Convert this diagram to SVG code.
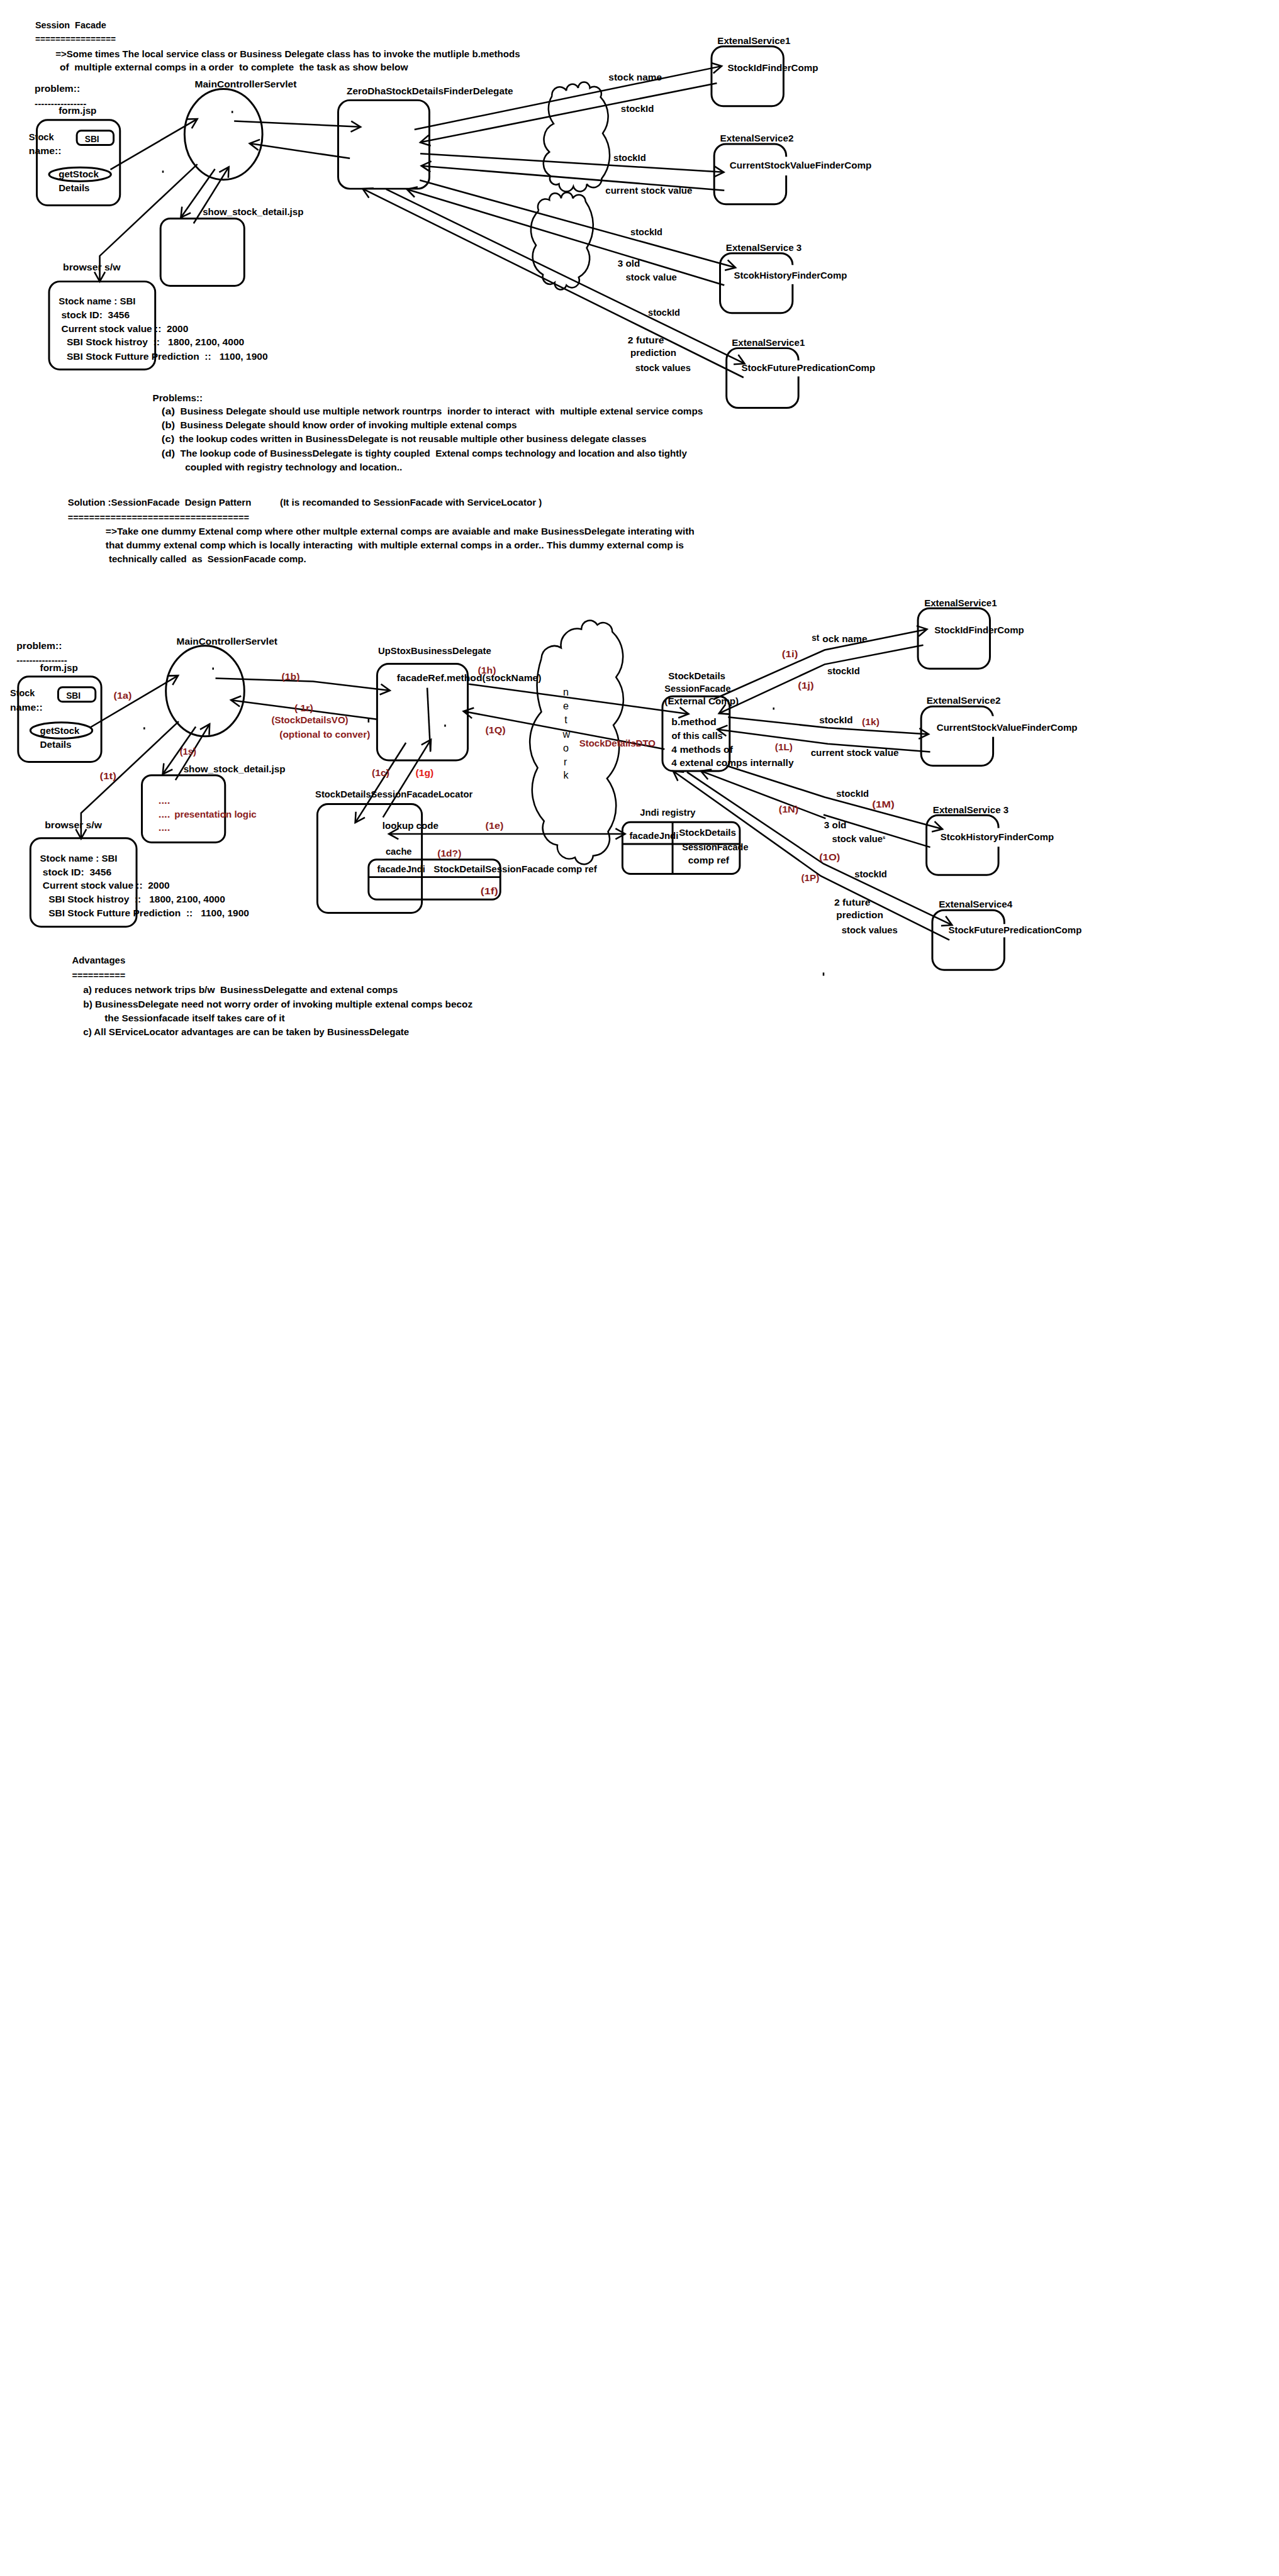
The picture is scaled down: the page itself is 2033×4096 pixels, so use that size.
<svg xmlns="http://www.w3.org/2000/svg" width="2033" height="4096" viewBox="0 0 2033 4096">
<defs>
<style>
.t{font-family:"Liberation Sans Narrow","Liberation Sans",Arial,sans-serif;font-weight:bold;font-size:18px;fill:#000;white-space:pre}
.r{fill:#8b1c1c}
.rb{fill:#e31b1b}
.nw{font-weight:normal;font-size:19px}
.box{fill:none;stroke:#000;stroke-width:3.5}
.ln{fill:none;stroke:#000;stroke-width:3}
.cl{fill:none;stroke:#000;stroke-width:3}
.gap{fill:#fff;stroke:none}
.dot{fill:#000}
</style>
<marker id="ah" viewBox="-24 -14 30 28" refX="0" refY="0" markerWidth="30" markerHeight="28" markerUnits="userSpaceOnUse" orient="auto-start-reverse" style="overflow:visible">
<path d="M-18,-10 L0,0 L-18,10" fill="none" stroke="#000" stroke-width="3"/>
</marker>
</defs>
<rect width="2033" height="4096" fill="#fff"/>
<g transform="scale(0.8478)">

<!-- ============ TOP SECTION ============ -->
<g id="intro">
<text class="t" x="66" y="53" textLength="133" lengthAdjust="spacingAndGlyphs">Session  Facade</text>
<text class="t" x="66" y="79" textLength="151" lengthAdjust="spacingAndGlyphs">================</text>
<text class="t" x="104" y="107" textLength="871" lengthAdjust="spacingAndGlyphs">=&gt;Some times The local service class or Business Delegate class has to invoke the mutliple b.methods</text>
<text class="t" x="112" y="132" textLength="653" lengthAdjust="spacingAndGlyphs">of  multiple external comps in a order  to complete  the task as show below</text>
<text class="t" x="65" y="172" textLength="85" lengthAdjust="spacingAndGlyphs">problem::</text>
<text class="t" x="65" y="201" textLength="97" lengthAdjust="spacingAndGlyphs">----------------</text>
</g>

<g id="top-clouds">
<path class="cl" d="M1035,180 A14.7,14.7 0 0 1 1062,170 A11.4,11.4 0 0 1 1084,165 A11,11 0 0 1 1106,165 A13.5,13.5 0 0 1 1126,182 A54,54 0 0 1 1130,250 A71.5,71.5 0 0 1 1128,335 A15.4,15.4 0 0 1 1100,345 A12.8,12.8 0 0 1 1075,350 A13.9,13.9 0 0 1 1048,345 A11.6,11.6 0 0 1 1032,330 A27,27 0 0 1 1030,285 A32.6,32.6 0 0 1 1038,232 A46,46 0 0 1 1035,180"/>
<path class="cl" d="M1010,395 A14.8,14.8 0 0 1 1030,375 A11,11 0 0 1 1052,372 A11,11 0 0 1 1074,372 A12.8,12.8 0 0 1 1098,378 A79,79 0 0 1 1100,465 A40,40 0 0 1 1085,520 A13.9,13.9 0 0 1 1062,535 A11.3,11.3 0 0 1 1040,530 A13.9,13.9 0 0 1 1018,515 A39,39 0 0 1 1005,460 A50,50 0 0 1 1010,395"/>
</g>

<g id="top-form">
<text class="t" x="110" y="214" textLength="71" lengthAdjust="spacingAndGlyphs">form.jsp</text>
<rect class="box" x="69" y="225" width="156" height="160" rx="20"/>
<rect class="box" x="144" y="245" width="69" height="27" rx="8"/>
<text class="t" x="159" y="267" textLength="27" lengthAdjust="spacingAndGlyphs">SBI</text>
<text class="t" x="54" y="263" textLength="47" lengthAdjust="spacingAndGlyphs">Stock</text>
<text class="t" x="54" y="289" textLength="61" lengthAdjust="spacingAndGlyphs">name::</text>
<ellipse class="box" cx="150" cy="327" rx="58" ry="13"/>
<text class="t" x="110" y="333" textLength="75" lengthAdjust="spacingAndGlyphs">getStock</text>
<text class="t" x="110" y="359" textLength="58" lengthAdjust="spacingAndGlyphs">Details</text>
</g>

<g id="top-servlet">
<text class="t" x="365" y="164" textLength="191" lengthAdjust="spacingAndGlyphs">MainControllerServlet</text>
<ellipse class="box" cx="419" cy="252" rx="73" ry="85"/>
<rect class="dot" x="434" y="208" width="3" height="4"/>
<rect class="dot" x="304" y="320" width="3" height="4"/>
</g>

<g id="top-delegate">
<text class="t" x="650" y="177" textLength="312" lengthAdjust="spacingAndGlyphs">ZeroDhaStockDetailsFinderDelegate</text>
<rect class="box" x="634" y="188" width="171" height="166" rx="22"/>
</g>

<g id="top-show">
<text class="t" x="380" y="403" textLength="189" lengthAdjust="spacingAndGlyphs">show_stock_detail.jsp</text>
<rect class="box" x="301" y="410" width="157" height="126" rx="18"/>
</g>

<g id="top-browser">
<text class="t" x="118" y="507" textLength="108" lengthAdjust="spacingAndGlyphs">browser s/w</text>
<rect class="box" x="92" y="528" width="199" height="165" rx="20"/>
<text class="t" x="110" y="571" textLength="144" lengthAdjust="spacingAndGlyphs">Stock name : SBI</text>
<text class="t" x="115" y="597" textLength="128" lengthAdjust="spacingAndGlyphs">stock ID:  3456</text>
<text class="t" x="115" y="623" textLength="238" lengthAdjust="spacingAndGlyphs">Current stock value ::  2000</text>
<text class="t" x="125" y="648" textLength="333" lengthAdjust="spacingAndGlyphs">SBI Stock histroy  ::   1800, 2100, 4000</text>
<text class="t" x="125" y="675" textLength="377" lengthAdjust="spacingAndGlyphs">SBI Stock Futture Prediction  ::   1100, 1900</text>
</g>

<g id="top-es1">
<text class="t" x="1345" y="83" textLength="137" lengthAdjust="spacingAndGlyphs">ExtenalService1</text>
<rect class="box" x="1334" y="87" width="135" height="112" rx="22"/>
<text class="t" x="1364" y="133" textLength="170" lengthAdjust="spacingAndGlyphs">StockIdFinderComp</text>
</g>

<g id="top-es2">
<text class="t" x="1350" y="265" textLength="138" lengthAdjust="spacingAndGlyphs">ExtenalService2</text>
<rect class="box" x="1339" y="270" width="135" height="113" rx="22"/>
<rect class="gap" x="1469" y="294" width="11" height="35"/>
<text class="t" x="1368" y="316" textLength="266" lengthAdjust="spacingAndGlyphs">CurrentStockValueFinderComp</text>
</g>

<g id="top-es3">
<text class="t" x="1361" y="471" textLength="142" lengthAdjust="spacingAndGlyphs">ExtenalService 3</text>
<rect class="box" x="1350" y="475" width="136" height="112" rx="22"/>
<rect class="gap" x="1481" y="497" width="11" height="36"/>
<text class="t" x="1376" y="522" textLength="212" lengthAdjust="spacingAndGlyphs">StcokHistoryFinderComp</text>
</g>

<g id="top-es4">
<text class="t" x="1372" y="649" textLength="137" lengthAdjust="spacingAndGlyphs">ExtenalService1</text>
<rect class="box" x="1362" y="653" width="135" height="112" rx="22"/>
<rect class="gap" x="1492" y="676" width="11" height="30"/>
<text class="t" x="1390" y="696" textLength="251" lengthAdjust="spacingAndGlyphs">StockFuturePredicationComp</text>
</g>

<g id="top-connectors">
<path class="ln" d="M207,318 L370,223" marker-end="url(#ah)"/>
<path class="ln" d="M439,227 L676,238" marker-end="url(#ah)"/>
<path class="ln" d="M656,297 L468,269" marker-end="url(#ah)"/>
<path class="ln" d="M370,308 L187,480 L187,528" marker-end="url(#ah)"/>
<path class="ln" d="M403,317 L339,408" marker-end="url(#ah)"/>
<path class="ln" d="M363,419 L429,313" marker-end="url(#ah)"/>
<path class="ln" d="M777,243 L1353,124" marker-end="url(#ah)"/>
<path class="ln" d="M1344,156 L788,267" marker-end="url(#ah)"/>
<path class="ln" d="M788,288 L1357,323" marker-end="url(#ah)"/>
<path class="ln" d="M1358,357 L790,311" marker-end="url(#ah)"/>
<path class="ln" d="M787,338 L1379,502" marker-end="url(#ah)"/>
<path class="ln" d="M1358,535 L763,355" marker-end="url(#ah)"/>
<path class="ln" d="M724,355 L1396,682" marker-end="url(#ah)"/>
<path class="ln" d="M1394,708 L680,354" marker-end="url(#ah)"/>
</g>

<g id="top-connector-labels">
<text class="t" x="1141" y="151" textLength="100" lengthAdjust="spacingAndGlyphs">stock name</text>
<text class="t" x="1164" y="210" textLength="62" lengthAdjust="spacingAndGlyphs">stockId</text>
<text class="t" x="1150" y="302" textLength="61" lengthAdjust="spacingAndGlyphs">stockId</text>
<text class="t" x="1135" y="363" textLength="163" lengthAdjust="spacingAndGlyphs">current stock value</text>
<text class="t" x="1182" y="441" textLength="60" lengthAdjust="spacingAndGlyphs">stockId</text>
<text class="t" x="1158" y="500" textLength="42" lengthAdjust="spacingAndGlyphs">3 old</text>
<text class="t" x="1173" y="526" textLength="96" lengthAdjust="spacingAndGlyphs">stock value</text>
<text class="t" x="1215" y="592" textLength="60" lengthAdjust="spacingAndGlyphs">stockId</text>
<text class="t" x="1177" y="644" textLength="68" lengthAdjust="spacingAndGlyphs">2 future</text>
<text class="t" x="1182" y="668" textLength="86" lengthAdjust="spacingAndGlyphs">prediction</text>
<text class="t" x="1191" y="696" textLength="104" lengthAdjust="spacingAndGlyphs">stock values</text>
</g>

<g id="problems">
<text class="t" x="286" y="752" textLength="94" lengthAdjust="spacingAndGlyphs">Problems::</text>
<text class="t" x="303" y="777" textLength="25" lengthAdjust="spacingAndGlyphs">(a)</text>
<text class="t" x="338" y="777" textLength="980" lengthAdjust="spacingAndGlyphs">Business Delegate should use multiple network rountrps  inorder to interact  with  multiple extenal service comps</text>
<text class="t" x="303" y="803" textLength="25" lengthAdjust="spacingAndGlyphs">(b)</text>
<text class="t" x="338" y="803" textLength="631" lengthAdjust="spacingAndGlyphs">Business Delegate should know order of invoking multiple extenal comps</text>
<text class="t" x="303" y="829" textLength="24" lengthAdjust="spacingAndGlyphs">(c)</text>
<text class="t" x="336" y="829" textLength="876" lengthAdjust="spacingAndGlyphs">the lookup codes written in BusinessDelegate is not reusable multiple other business delegate classes</text>
<text class="t" x="303" y="856" textLength="25" lengthAdjust="spacingAndGlyphs">(d)</text>
<text class="t" x="338" y="856" textLength="950" lengthAdjust="spacingAndGlyphs">The lookup code of BusinessDelegate is tighty coupled  Extenal comps technology and location and also tightly</text>
<text class="t" x="347" y="882" textLength="407" lengthAdjust="spacingAndGlyphs">coupled with registry technology and location..</text>
</g>

<g id="solution">
<text class="t" x="127" y="948" textLength="344" lengthAdjust="spacingAndGlyphs">Solution :SessionFacade  Design Pattern</text>
<text class="t" x="525" y="948" textLength="491" lengthAdjust="spacingAndGlyphs">(It is recomanded to SessionFacade with ServiceLocator )</text>
<text class="t" x="127" y="977" textLength="340" lengthAdjust="spacingAndGlyphs">==================================</text>
<text class="t" x="198" y="1003" textLength="1104" lengthAdjust="spacingAndGlyphs">=&gt;Take one dummy Extenal comp where other multple external comps are avaiable and make BusinessDelegate interating with</text>
<text class="t" x="198" y="1029" textLength="1084" lengthAdjust="spacingAndGlyphs">that dummy extenal comp which is locally interacting  with multiple external comps in a order.. This dummy external comp is</text>
<text class="t" x="204" y="1054" textLength="370" lengthAdjust="spacingAndGlyphs">technically called  as  SessionFacade comp.</text>
</g>

<!-- ============ BOTTOM SECTION ============ -->
<g id="bottom-cloud">
<path class="cl" d="M1015,1235 A24.4,24.4 0 0 1 1052,1215 A31,31 0 0 1 1090,1180 A16,16 0 0 1 1120,1172 A17,17 0 0 1 1148,1185 A64,64 0 0 1 1155,1270 A71,71 0 0 1 1150,1360 A86,86 0 0 1 1138,1460 A86,86 0 0 1 1140,1560 A32,32 0 0 1 1112,1605 A17.3,17.3 0 0 1 1078,1608 A22.7,22.7 0 0 1 1045,1585 A33,33 0 0 1 1020,1540 A88,88 0 0 1 1008,1440 A86,86 0 0 1 1015,1335 A160,160 0 0 1 1015,1235"/>
<g id="network-label">
<text class="t nw" x="1061" y="1305" text-anchor="middle">n</text>
<text class="t nw" x="1061" y="1330" text-anchor="middle">e</text>
<text class="t nw" x="1061" y="1356" text-anchor="middle">t</text>
<text class="t nw" x="1062" y="1383" text-anchor="middle">w</text>
<text class="t nw" x="1061" y="1409" text-anchor="middle">o</text>
<text class="t nw" x="1060" y="1435" text-anchor="middle">r</text>
<text class="t nw" x="1061" y="1460" text-anchor="middle">k</text>
</g>
</g>

<g id="bottom-heading">
<text class="t" x="31" y="1217" textLength="85" lengthAdjust="spacingAndGlyphs">problem::</text>
<text class="t" x="31" y="1244" textLength="95" lengthAdjust="spacingAndGlyphs">----------------</text>
</g>

<g id="bottom-form">
<text class="t" x="75" y="1258" textLength="71" lengthAdjust="spacingAndGlyphs">form.jsp</text>
<rect class="box" x="34" y="1269" width="156" height="160" rx="20"/>
<rect class="box" x="109" y="1289" width="70" height="27" rx="8"/>
<text class="t" x="124" y="1310" textLength="27" lengthAdjust="spacingAndGlyphs">SBI</text>
<text class="t" x="19" y="1306" textLength="46" lengthAdjust="spacingAndGlyphs">Stock</text>
<text class="t" x="19" y="1333" textLength="61" lengthAdjust="spacingAndGlyphs">name::</text>
<ellipse class="box" cx="115" cy="1370" rx="58" ry="15"/>
<text class="t" x="75" y="1377" textLength="74" lengthAdjust="spacingAndGlyphs">getStock</text>
<text class="t" x="75" y="1403" textLength="59" lengthAdjust="spacingAndGlyphs">Details</text>
</g>

<g id="bottom-servlet">
<text class="t" x="331" y="1209" textLength="189" lengthAdjust="spacingAndGlyphs">MainControllerServlet</text>
<ellipse class="box" cx="384.5" cy="1296" rx="73.5" ry="85"/>
<rect class="dot" x="398" y="1252" width="3" height="4"/>
<rect class="dot" x="269" y="1364" width="3" height="4"/>
</g>

<g id="bottom-show">
<text class="t" x="344" y="1448" textLength="191" lengthAdjust="spacingAndGlyphs">show_stock_detail.jsp</text>
<rect class="box" x="266" y="1454" width="156" height="126" rx="18"/>
<text class="t r" x="297" y="1507" textLength="22" lengthAdjust="spacingAndGlyphs">....</text>
<text class="t r" x="297" y="1533" textLength="22" lengthAdjust="spacingAndGlyphs">....</text>
<text class="t r" x="327" y="1533" textLength="154" lengthAdjust="spacingAndGlyphs">presentation logic</text>
<text class="t r" x="297" y="1558" textLength="22" lengthAdjust="spacingAndGlyphs">....</text>
</g>

<g id="bottom-browser">
<text class="t" x="84" y="1553" textLength="107" lengthAdjust="spacingAndGlyphs">browser s/w</text>
<rect class="box" x="57" y="1572" width="199" height="166" rx="20"/>
<text class="t" x="75" y="1616" textLength="145" lengthAdjust="spacingAndGlyphs">Stock name : SBI</text>
<text class="t" x="80" y="1642" textLength="129" lengthAdjust="spacingAndGlyphs">stock ID:  3456</text>
<text class="t" x="80" y="1667" textLength="238" lengthAdjust="spacingAndGlyphs">Current stock value ::  2000</text>
<text class="t" x="91" y="1693" textLength="331" lengthAdjust="spacingAndGlyphs">SBI Stock histroy  ::   1800, 2100, 4000</text>
<text class="t" x="91" y="1719" textLength="376" lengthAdjust="spacingAndGlyphs">SBI Stock Futture Prediction  ::   1100, 1900</text>
</g>

<g id="bottom-delegate">
<text class="t" x="709" y="1227" textLength="212" lengthAdjust="spacingAndGlyphs">UpStoxBusinessDelegate</text>
<rect class="box" x="707" y="1245" width="170" height="181" rx="22"/>
<text class="t" x="744" y="1278" textLength="271" lengthAdjust="spacingAndGlyphs">facadeRef.method(stockName)</text>
<rect class="dot" x="833" y="1359" width="3" height="4"/>
</g>

<g id="bottom-locator">
<text class="t" x="591" y="1496" textLength="295" lengthAdjust="spacingAndGlyphs">StockDetailsSessionFacadeLocator</text>
<rect class="box" x="595" y="1508" width="196" height="204" rx="20"/>
<text class="t" x="717" y="1555" textLength="105" lengthAdjust="spacingAndGlyphs">lookup code</text>
<text class="t" x="723" y="1603" textLength="49" lengthAdjust="spacingAndGlyphs">cache</text>
<g id="cache-table">
<rect class="box" x="691" y="1612" width="247" height="75" rx="15"/>
<line class="box" x1="691" y1="1645" x2="938" y2="1645"/>
<text class="t" x="707" y="1636" textLength="90" lengthAdjust="spacingAndGlyphs">facadeJndi</text>
<text class="t" x="813" y="1636" textLength="306" lengthAdjust="spacingAndGlyphs">StockDetailSessionFacade comp ref</text>
</g>
</g>

<g id="jndi-registry">
<text class="t" x="1200" y="1530" textLength="104" lengthAdjust="spacingAndGlyphs">Jndi registry</text>
<rect class="box" x="1167" y="1542" width="220" height="97" rx="15"/>
<line class="box" x1="1167" y1="1583" x2="1387" y2="1583"/>
<line class="box" x1="1261" y1="1542" x2="1261" y2="1639"/>
<text class="t" x="1180" y="1574" textLength="92" lengthAdjust="spacingAndGlyphs">facadeJndi</text>
<text class="t" x="1273" y="1568" textLength="107" lengthAdjust="spacingAndGlyphs">StockDetails</text>
<text class="t" x="1279" y="1595" textLength="124" lengthAdjust="spacingAndGlyphs">SessionFacade</text>
<text class="t" x="1290" y="1620" textLength="77" lengthAdjust="spacingAndGlyphs">comp ref</text>
</g>

<g id="bottom-facade">
<text class="t" x="1253" y="1274" textLength="107" lengthAdjust="spacingAndGlyphs">StockDetails</text>
<text class="t" x="1246" y="1297" textLength="124" lengthAdjust="spacingAndGlyphs">SessionFacade</text>
<rect class="box" x="1242" y="1306" width="126" height="140" rx="20"/>
<text class="t" x="1246" y="1321" textLength="139" lengthAdjust="spacingAndGlyphs">(External Comp)</text>
<text class="t" x="1259" y="1360" textLength="84" lengthAdjust="spacingAndGlyphs">b.method</text>
<text class="t" x="1259" y="1386" textLength="96" lengthAdjust="spacingAndGlyphs">of this calls</text>
<text class="t" x="1259" y="1412" textLength="115" lengthAdjust="spacingAndGlyphs">4 methods of</text>
<text class="t" x="1259" y="1437" textLength="229" lengthAdjust="spacingAndGlyphs">4 extenal comps internally</text>
<rect class="dot" x="1449" y="1327" width="3" height="4"/>
</g>

<g id="bottom-es1">
<text class="t" x="1733" y="1137" textLength="136" lengthAdjust="spacingAndGlyphs">ExtenalService1</text>
<rect class="box" x="1721" y="1141" width="135" height="113" rx="22"/>
<text class="t" x="1752" y="1188" textLength="168" lengthAdjust="spacingAndGlyphs">StockIdFinderComp</text>
</g>

<g id="bottom-es2">
<text class="t" x="1737" y="1320" textLength="139" lengthAdjust="spacingAndGlyphs">ExtenalService2</text>
<rect class="box" x="1727" y="1325" width="135" height="111" rx="22"/>
<rect class="gap" x="1857" y="1343" width="11" height="39"/>
<text class="t" x="1756" y="1371" textLength="264" lengthAdjust="spacingAndGlyphs">CurrentStockValueFinderComp</text>
</g>

<g id="bottom-es3">
<text class="t" x="1749" y="1525" textLength="142" lengthAdjust="spacingAndGlyphs">ExtenalService 3</text>
<rect class="box" x="1737" y="1529" width="135" height="112" rx="22"/>
<rect class="gap" x="1867" y="1553" width="11" height="35"/>
<text class="t" x="1763" y="1576" textLength="213" lengthAdjust="spacingAndGlyphs">StcokHistoryFinderComp</text>
</g>

<g id="bottom-es4">
<text class="t" x="1760" y="1702" textLength="138" lengthAdjust="spacingAndGlyphs">ExtenalService4</text>
<rect class="box" x="1748" y="1707" width="135" height="112" rx="22"/>
<rect class="gap" x="1878" y="1733" width="11" height="25"/>
<text class="t" x="1778" y="1750" textLength="250" lengthAdjust="spacingAndGlyphs">StockFuturePredicationComp</text>
</g>

<g id="bottom-connectors">
<path class="ln" d="M168,1365 L334,1267" marker-end="url(#ah)"/>
<path class="ln" d="M404,1272 L587,1278 L731,1295" marker-end="url(#ah)"/>
<path class="ln" d="M707,1349 L433,1313" marker-end="url(#ah)"/>
<path class="ln" d="M691,1346 L691,1355"/>
<path class="ln" d="M335,1353 L152,1525 L152,1573" marker-end="url(#ah)"/>
<path class="ln" d="M367,1363 L305,1452" marker-end="url(#ah)"/>
<path class="ln" d="M329,1463 L393,1358" marker-end="url(#ah)"/>
<path class="ln" d="M761,1393 L666,1543" marker-end="url(#ah)"/>
<path class="ln" d="M718,1533 L808,1387" marker-end="url(#ah)"/>
<path class="ln" d="M801,1290 L807,1410"/>
<path class="ln" d="M729,1564 L1172,1564" marker-start="url(#ah)" marker-end="url(#ah)"/>
<path class="ln" d="M879,1283 L1291,1339" marker-end="url(#ah)"/>
<path class="ln" d="M1246,1405 L869,1334" marker-end="url(#ah)"/>
<path class="ln" d="M1339,1311 L1546,1219 L1738,1180" marker-end="url(#ah)"/>
<path class="ln" d="M1731,1210 L1546,1246 L1348,1338" marker-end="url(#ah)"/>
<path class="ln" d="M1365,1345 L1552,1365 L1741,1377" marker-end="url(#ah)"/>
<path class="ln" d="M1744,1410 L1552,1395 L1345,1368" marker-end="url(#ah)"/>
<path class="ln" d="M1362,1436 L1546,1495 L1767,1555" marker-end="url(#ah)"/>
<path class="ln" d="M1744,1589 L1544,1528"/>
<path class="ln" d="M1548,1535 L1314,1446" marker-end="url(#ah)"/>
<path class="ln" d="M1288,1448 L1544,1620 L1785,1735" marker-end="url(#ah)"/>
<path class="ln" d="M1780,1763 L1539,1643 L1262,1446" marker-end="url(#ah)"/>
<path class="ln" d="M1544,1824 L1544,1830"/>
</g>

<g id="bottom-connector-labels">
<text class="t r" x="213" y="1310" textLength="34" lengthAdjust="spacingAndGlyphs">(1a)</text>
<text class="t r" x="528" y="1275" textLength="34" lengthAdjust="spacingAndGlyphs">(1b)</text>
<text class="t r" x="552" y="1334" textLength="35" lengthAdjust="spacingAndGlyphs">( 1r)</text>
<text class="t r" x="509" y="1356" textLength="144" lengthAdjust="spacingAndGlyphs">(StockDetailsVO)</text>
<text class="t r" x="524" y="1383" textLength="170" lengthAdjust="spacingAndGlyphs">(optional to conver)</text>
<text class="t r" x="187" y="1461" textLength="31" lengthAdjust="spacingAndGlyphs">(1t)</text>
<text class="t r" x="337" y="1416" textLength="31" lengthAdjust="spacingAndGlyphs">(1s)</text>
<text class="t r" x="697" y="1456" textLength="33" lengthAdjust="spacingAndGlyphs">(1c)</text>
<text class="t rb" x="779" y="1456" textLength="34" lengthAdjust="spacingAndGlyphs">(1g)</text>
<text class="t r" x="896" y="1263" textLength="34" lengthAdjust="spacingAndGlyphs">(1h)</text>
<text class="t r" x="910" y="1375" textLength="38" lengthAdjust="spacingAndGlyphs">(1Q)</text>
<text class="t r" x="1086" y="1400" textLength="143" lengthAdjust="spacingAndGlyphs">StockDetailsDTO</text>
<text class="t r" x="910" y="1555" textLength="34" lengthAdjust="spacingAndGlyphs">(1e)</text>
<text class="t r" x="820" y="1607" textLength="45" lengthAdjust="spacingAndGlyphs">(1d?)</text>
<text class="t r" x="901" y="1677" textLength="33" lengthAdjust="spacingAndGlyphs">(1f)</text>
<text class="t" x="1522" y="1202" textLength="14" lengthAdjust="spacingAndGlyphs">st</text>
<text class="t" x="1542" y="1204" textLength="84" lengthAdjust="spacingAndGlyphs">ock name</text>
<text class="t r" x="1466" y="1233" textLength="30" lengthAdjust="spacingAndGlyphs">(1i)</text>
<text class="t" x="1551" y="1265" textLength="61" lengthAdjust="spacingAndGlyphs">stockId</text>
<text class="t r" x="1496" y="1292" textLength="30" lengthAdjust="spacingAndGlyphs">(1j)</text>
<text class="t" x="1536" y="1357" textLength="63" lengthAdjust="spacingAndGlyphs">stockId</text>
<text class="t r" x="1616" y="1360" textLength="33" lengthAdjust="spacingAndGlyphs">(1k)</text>
<text class="t r" x="1453" y="1407" textLength="33" lengthAdjust="spacingAndGlyphs">(1L)</text>
<text class="t" x="1520" y="1418" textLength="165" lengthAdjust="spacingAndGlyphs">current stock value</text>
<text class="t" x="1568" y="1494" textLength="61" lengthAdjust="spacingAndGlyphs">stockId</text>
<text class="t r" x="1635" y="1514" textLength="42" lengthAdjust="spacingAndGlyphs">(1M)</text>
<text class="t r" x="1460" y="1524" textLength="37" lengthAdjust="spacingAndGlyphs">(1N)</text>
<text class="t" x="1545" y="1553" textLength="42" lengthAdjust="spacingAndGlyphs">3 old</text>
<text class="t" x="1560" y="1579" textLength="95" lengthAdjust="spacingAndGlyphs">stock value</text>
<text class="t" x="1655" y="1573" style="font-size:9px">s</text>
<text class="t r" x="1536" y="1613" textLength="39" lengthAdjust="spacingAndGlyphs">(1O)</text>
<text class="t" x="1602" y="1646" textLength="61" lengthAdjust="spacingAndGlyphs">stockId</text>
<text class="t r" x="1502" y="1652" textLength="34" lengthAdjust="spacingAndGlyphs">(1P)</text>
<text class="t" x="1564" y="1698" textLength="68" lengthAdjust="spacingAndGlyphs">2 future</text>
<text class="t" x="1568" y="1722" textLength="88" lengthAdjust="spacingAndGlyphs">prediction</text>
<text class="t" x="1578" y="1750" textLength="105" lengthAdjust="spacingAndGlyphs">stock values</text>
</g>

<g id="advantages">
<text class="t" x="135" y="1807" textLength="100" lengthAdjust="spacingAndGlyphs">Advantages</text>
<text class="t" x="135" y="1835" textLength="100" lengthAdjust="spacingAndGlyphs">==========</text>
<text class="t" x="156" y="1863" textLength="590" lengthAdjust="spacingAndGlyphs">a) reduces network trips b/w  BusinessDelegatte and extenal comps</text>
<text class="t" x="156" y="1890" textLength="730" lengthAdjust="spacingAndGlyphs">b) BusinessDelegate need not worry order of invoking multiple extenal comps becoz</text>
<text class="t" x="196" y="1916" textLength="338" lengthAdjust="spacingAndGlyphs">the Sessionfacade itself takes care of it</text>
<text class="t" x="156" y="1942" textLength="611" lengthAdjust="spacingAndGlyphs">c) All SErviceLocator advantages are can be taken by BusinessDelegate</text>
</g>

</g>
</svg>
